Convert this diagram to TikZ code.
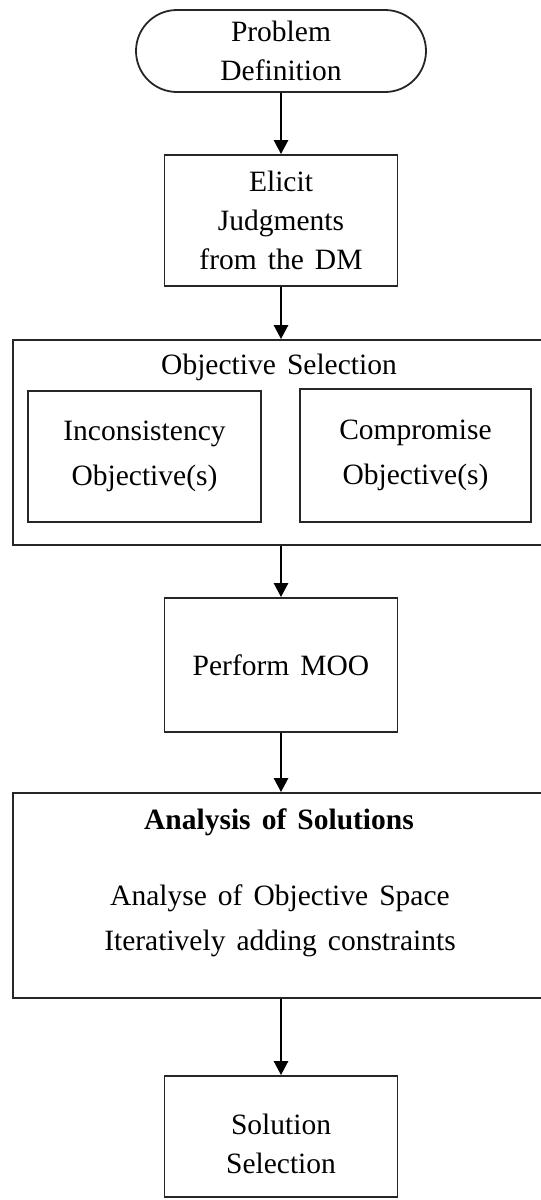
\documentclass[tikz,border=0pt]{standalone}
\usepackage{fontspec}
\setmainfont{Liberation Serif}[WordSpace=1.5]
\usetikzlibrary{arrows.meta}
\begin{document}
\begin{tikzpicture}[x=1pt,y=-1pt,
  box/.style={draw=black!85, line width=1.8pt, rectangle, inner sep=0pt},
  txt/.style={align=center, font=\fontsize{29.5}{39}\selectfont, inner sep=0pt},
  wtxt/.style={align=center, font=\fontsize{29.5}{45}\selectfont, inner sep=0pt},
  arr/.style={line width=2.6pt, -{Triangle[width=14pt,length=14pt]}}]
\useasboundingbox (0,0) rectangle (541,1200);
\node[box, txt, rounded corners=41pt, minimum width=290pt, minimum height=82pt] (start) at (281,51) {Problem\\Definition};
\node[box, txt, minimum width=233pt, minimum height=131pt] (elicit) at (281,220.5) {Elicit\\Judgments\\from the DM};
\node[box, minimum width=536pt, minimum height=205pt] (objsel) at (281,442.5) {};
\node[txt] (objtitle) at (279,367) {Objective Selection};
\node[box, wtxt, minimum width=233pt, minimum height=131pt] (incons) at (144.5,456.5) {Inconsistency\\Objective(s)};
\node[box, wtxt, minimum width=231pt, minimum height=133pt] (compro) at (415.5,455.5) {Compromise\\Objective(s)};
\node[box, txt, minimum width=233pt, minimum height=134pt] (moo) at (281,665) {Perform MOO};
\node[box, minimum width=536pt, minimum height=205pt] (anal) at (281,895.5) {};
\node[txt, font=\fontsize{29.5}{39}\selectfont\bfseries] (analtitle) at (279,822) {Analysis of Solutions};
\node[wtxt] (analtext) at (280,921) {Analyse of Objective Space\\Iteratively adding constraints};
\node[box, minimum width=233pt, minimum height=121pt] (sol) at (281,1136.5) {};
\node[txt] (soltext) at (281,1144) {Solution\\Selection};
\draw[arr] (start.south) -- (elicit.north);
\draw[arr] (elicit.south) -- (objsel.north);
\draw[arr] (objsel.south) -- (moo.north);
\draw[arr] (moo.south) -- (anal.north);
\draw[arr] (anal.south) -- (sol.north);
\end{tikzpicture}
\end{document}
